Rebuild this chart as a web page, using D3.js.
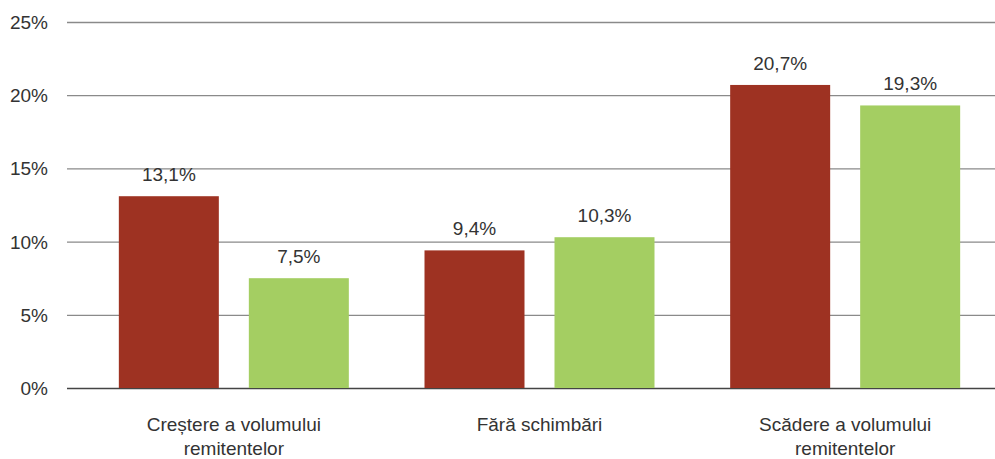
<!DOCTYPE html>
<html>
<head>
<meta charset="utf-8">
<script src="https://cdn.jsdelivr.net/npm/d3@7"></script>
<style>
   body { margin: 0; background: #fff; }
   text { font-family: "Liberation Sans", Arial, Helvetica, sans-serif; fill: #333; }
</style>
</head>
<body>
<div id="chart"></div>
<script>
// CHART DATA
var categories = [
   ['Creștere a volumului', 'remitentelor'],
   ['Fără schimbări'],
   ['Scădere a volumului', 'remitentelor']
];
var series = ['a', 'b'];
var valuesA = [13.1, 9.4, 20.7];
var valuesB = [7.5, 10.3, 19.3];
var yTicks = [0, 5, 10, 15, 20, 25];

// SETTINGS
var settings = {
   width: 995,
   height: 459,
   left: 67,
   top: 22,
   bottom: 388,
   font: 19,
   colors: { a: '#9e3222', b: '#a4ce62' }
};

var keys = categories.map((c, i) => i);

// SCALES
var yScale = d3.scaleLinear()
   .domain([0, 25])
   .range([settings.bottom, settings.top])

var x0 = d3.scaleBand()
   .domain(keys)
   .range([81, 998])

var x1 = d3.scaleBand()
   .domain(series)
   .range([0, 230])
   .paddingInner(30 / 130)

// CANVAS
var canvas = d3.select('#chart').append('svg')
   .attr('width', settings.width)
   .attr('height', settings.height)

// GRIDLINES + Y LABELS
var yAxis = d3.axisLeft(yScale)
   .tickValues(yTicks)
   .tickSize(-(settings.width - settings.left))
   .tickPadding(19)
   .tickFormat(d => d + '%')

canvas.append('g')
   .attr('transform', 'translate(' + settings.left + ',0)')
   .call(yAxis)
   .call(g => g.select('.domain').remove())
   .call(g => g.selectAll('.tick line')
      .attr('stroke', d => d === 0 ? '#444' : '#8a8a8a')
      .attr('stroke-width', 1.3))
   .call(g => g.selectAll('.tick text')
      .attr('font-size', settings.font)
      .attr('fill', '#333')
      .attr('dy', '0.34em')
      .style('font-family', '"Liberation Sans", Arial, sans-serif'))

// BARS
var rows = keys.map(i => ({ key: i, a: valuesA[i], b: valuesB[i] }));

var groups = canvas.selectAll('.group')
   .data(rows)
   .enter().append('g')
      .attr('class', 'group')
      .attr('transform', d => 'translate(' + (x0(d.key) + x0.bandwidth() / 2 - 115) + ',0)')

groups.selectAll('rect')
   .data(d => series.map(s => ({ s: s, v: d[s] })))
   .enter().append('rect')
      .attr('x', d => x1(d.s))
      .attr('width', x1.bandwidth())
      .attr('y', d => yScale(d.v))
      .attr('height', d => yScale(0) - yScale(d.v))
      .attr('fill', d => settings.colors[d.s])

// VALUE LABELS
groups.selectAll('.val')
   .data(d => series.map(s => ({ s: s, v: d[s] })))
   .enter().append('text')
      .attr('class', 'val')
      .attr('x', d => x1(d.s) + x1.bandwidth() / 2)
      .attr('y', d => yScale(d.v) - 15)
      .attr('text-anchor', 'middle')
      .attr('font-size', settings.font)
      .text(d => String(d.v).replace('.', ',') + '%')

// CATEGORY LABELS
canvas.selectAll('.cat')
   .data(rows)
   .enter().append('text')
      .attr('class', 'cat')
      .attr('text-anchor', 'middle')
      .attr('font-size', settings.font)
      .attr('transform', d => 'translate(' + (x0(d.key) + x0.bandwidth() / 2) + ',431)')
      .selectAll('tspan')
      .data(d => categories[d.key])
      .enter().append('tspan')
         .attr('x', 0)
         .attr('y', (d, i) => i * 24)
         .text(d => d)
</script>
</body>
</html>
